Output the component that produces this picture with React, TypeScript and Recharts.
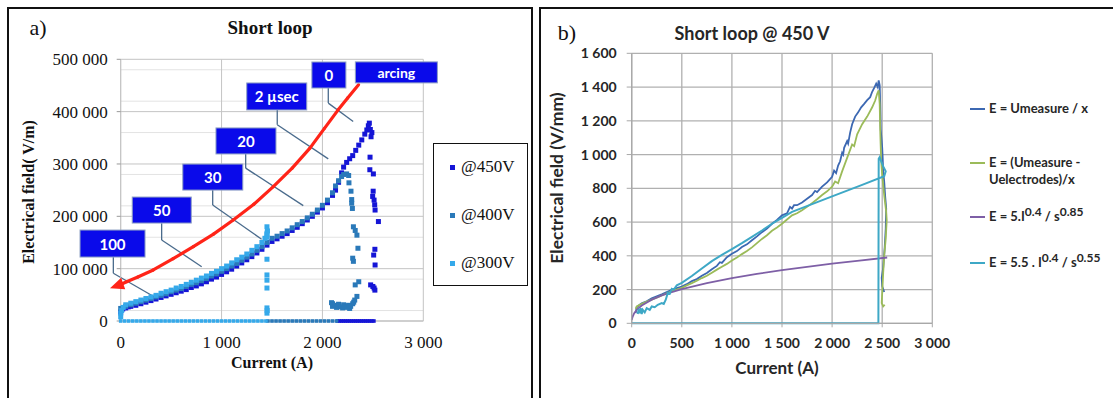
import React from "react";
import {
  ComposedChart,
  LineChart,
  Line,
  Scatter,
  XAxis,
  YAxis,
  CartesianGrid,
  ReferenceLine,
  ReferenceDot,
} from "recharts";

type Pt = [number, number];

// ---------- panel a : Short loop (scatter) ----------
const A_X_TICKS = [0, 1000, 2000, 3000];
const A_Y_TICKS = [0, 100000, 200000, 300000, 400000, 500000];
const A_Y_MINOR = [
  20000, 40000, 60000, 80000, 120000, 140000, 160000, 180000, 220000, 240000,
  260000, 280000, 320000, 340000, 360000, 380000, 420000, 440000, 460000, 480000,
];

const V450_CURVE: Pt[] = [
  [0, 17000], [20, 23000], [50, 25000], [75, 27000], [100, 28000], [150, 30000],
  [200, 33000], [250, 36000], [300, 39000], [350, 42000], [400, 45000], [450, 48000],
  [500, 51000], [550, 54000], [600, 57000], [650, 60000], [700, 64000], [750, 67000],
  [800, 71000], [850, 75000], [900, 80000], [950, 84000], [1000, 89000], [1050, 94000],
  [1100, 99000], [1150, 105000], [1200, 111000], [1250, 117000], [1300, 123000],
  [1350, 130000], [1400, 137000], [1450, 145000], [1500, 152000], [1550, 157000],
  [1600, 162000], [1650, 167000], [1700, 173000], [1750, 179000], [1800, 186000],
  [1850, 193000], [1900, 200000], [1950, 208000], [2000, 216000], [2050, 226000],
  [2100, 240000], [2130, 250000], [2160, 265000], [2190, 283000], [2210, 294000],
  [2240, 303000], [2270, 310000], [2300, 316000], [2330, 326000], [2360, 336000],
  [2390, 346000], [2420, 357000], [2440, 365000], [2455, 373000], [2465, 378000],
  [2475, 366000], [2490, 360000], [2482, 352000],
];
const V450_DROP: Pt[] = [
  [2472, 313000], [2470, 289000], [2505, 281000], [2503, 248000], [2498, 238000],
  [2512, 231000], [2518, 222000], [2522, 212000], [2555, 190000], [2520, 137000],
  [2508, 126000], [2522, 107000], [2478, 69000], [2500, 66000], [2512, 63000], [2520, 59000],
];
const V450_ZERO_X = [
  2150, 2170, 2190, 2210, 2230, 2250, 2270, 2290, 2310, 2330, 2350, 2370, 2390, 2410,
  2430, 2450, 2470, 2490, 2510,
];

const V400_CURVE: Pt[] = [
  [0, 24000], [50, 28000], [100, 31000], [150, 34000], [200, 37000], [250, 40000],
  [300, 43000], [350, 46000], [400, 49000], [450, 52000], [500, 56000], [550, 59000],
  [600, 62000], [650, 66000], [700, 70000], [750, 73000], [800, 77000], [850, 81000],
  [900, 86000], [950, 90000], [1000, 95000], [1050, 100000], [1100, 105000],
  [1150, 110000], [1200, 116000], [1250, 122000], [1300, 128000], [1350, 135000],
  [1400, 142000], [1450, 150000], [1500, 158000], [1550, 162000], [1600, 167000],
  [1650, 172000], [1700, 178000], [1750, 184000], [1800, 190000], [1850, 197000],
  [1900, 204000], [1950, 212000], [2000, 221000], [2050, 231000], [2100, 245000],
  [2130, 258000], [2160, 268000], [2190, 276000], [2210, 280000], [2240, 281000],
  [2260, 278000],
];
const V400_DROP: Pt[] = [
  [2263, 264000], [2290, 232000], [2283, 248000], [2290, 225000], [2297, 215000],
  [2307, 180000], [2325, 173000], [2342, 164000], [2352, 139000], [2300, 120000],
  [2307, 114000], [2325, 69000], [2360, 75000], [2342, 47000],
  [2090, 35000], [2100, 28000], [2100, 33000], [2120, 30000], [2140, 26000],
  [2150, 29000], [2160, 32000], [2180, 27000], [2200, 25000], [2210, 31000],
  [2220, 29000], [2240, 26000], [2260, 30000], [2270, 24000], [2280, 28000],
  [2300, 33000], [2310, 36000], [2320, 40000],
];
const V400_ZERO_X = [
  1460, 1500, 1540, 1580, 1620, 1660, 1700, 1740, 1780, 1820, 1860, 1900, 1940, 1980,
  2020, 2060, 2100, 2140,
];

const V300_CURVE: Pt[] = [
  [0, 8000], [0, 15000], [10, 20000], [25, 26000], [50, 31000], [100, 34000],
  [150, 37000], [200, 40000], [250, 43000], [300, 46000], [350, 49000], [400, 53000],
  [450, 56000], [500, 59000], [550, 63000], [600, 66000], [650, 70000], [700, 74000],
  [750, 78000], [800, 82000], [850, 86000], [900, 91000], [950, 95000], [1000, 100000],
  [1050, 105000], [1100, 111000], [1150, 117000], [1200, 122000], [1250, 128000],
  [1300, 135000], [1350, 142000], [1400, 150000], [1430, 158000], [1450, 165000],
  [1455, 172000], [1450, 180000],
];
const V300_DROP: Pt[] = [
  [1450, 168000], [1450, 160000], [1450, 118000], [1450, 88000], [1450, 78000],
  [1450, 63000], [1450, 25000], [1452, 20000], [1450, 15000],
];
const V300_ZERO_X = [
  0, 40, 80, 120, 160, 200, 240, 280, 320, 360, 400, 440, 480, 520, 560, 600, 640, 680,
  720, 760, 800, 840, 880, 920, 960, 1000, 1040, 1080, 1120, 1160, 1200, 1240, 1280,
  1320, 1360, 1400, 1440,
];

const A_SERIES = [
  { name: "@450V", color: "#1515d6", pts: [...V450_CURVE, ...V450_DROP], zero: V450_ZERO_X },
  { name: "@400V", color: "#2a79b9", pts: [...V400_CURVE, ...V400_DROP], zero: V400_ZERO_X },
  { name: "@300V", color: "#35a9ea", pts: [...V300_CURVE, ...V300_DROP], zero: V300_ZERO_X },
];

// time labels (anchored in data units)
const TIME_LABELS = [
  { text: "100", x: -81, y: 148000, w: 65, h: 27 },
  { text: "50", x: 407, y: 212000, w: 59, h: 26 },
  { text: "30", x: 913, y: 275000, w: 60, h: 26 },
  { text: "20", x: 1242, y: 344000, w: 60, h: 26 },
  { text: "2 µsec", x: 1547, y: 429000, w: 60, h: 27 },
  { text: "0", x: 2064, y: 470000, w: 34, h: 26 },
  { text: "arcing", x: 2733, y: 475000, w: 82, h: 21 },
];
const CALLOUTS: Pt[][] = [
  [[-73, 122900], [-73, 91200], [357, 43400]],
  [[406, 186800], [406, 154900], [803, 103800]],
  [[912, 250500], [912, 221800], [1397, 156200]],
  [[1239, 320600], [1239, 292000], [1810, 220500]],
  [[1552, 403400], [1552, 374800], [2058, 309800]],
  [[2058, 445000], [2058, 416300], [2305, 381100]],
];
const ARROW: Pt[] = [
  [2358, 451200], [2250, 426000], [2156, 403400], [2020, 368000], [1876, 330200],
  [1700, 292000], [1513, 256800], [1320, 223000], [1116, 193100], [920, 166000],
  [720, 142100], [520, 119000], [323, 97500], [170, 84000], [59, 75100], [10, 70700],
];
const ARROW_TIP: Pt = [-106, 62500];

// ---------- panel b : Short loop @ 450 V (lines) ----------
const B_X_TICKS = [0, 500, 1000, 1500, 2000, 2500, 3000];
const B_Y_TICKS = [0, 200, 400, 600, 800, 1000, 1200, 1400, 1600];

const E_MEASURE: Pt[] = [
  [40, 60], [50, 95], [80, 110], [100, 118], [150, 130], [200, 148], [250, 160],
  [300, 172], [350, 185], [400, 198], [450, 208], [500, 218], [550, 232], [600, 250],
  [650, 262], [700, 282], [750, 298], [800, 320], [850, 340], [880, 362], [900, 358],
  [950, 392], [1000, 412], [1050, 428], [1100, 452], [1150, 468], [1200, 492],
  [1250, 515], [1300, 540], [1350, 562], [1400, 590], [1450, 612], [1500, 640],
  [1550, 652], [1580, 690], [1600, 680], [1620, 700], [1650, 700], [1700, 716],
  [1750, 738], [1800, 760], [1830, 785], [1850, 778], [1900, 810], [1950, 835],
  [2000, 868], [2020, 905], [2040, 890], [2060, 935], [2080, 960], [2100, 1010],
  [2110, 1000], [2120, 1040], [2150, 1080], [2160, 1065], [2180, 1130], [2200, 1180],
  [2230, 1225], [2260, 1250], [2290, 1280], [2320, 1300], [2350, 1322], [2380, 1340],
  [2400, 1372], [2420, 1395], [2440, 1420], [2455, 1400], [2465, 1440], [2475, 1410],
  [2480, 1300], [2485, 1150], [2495, 1080], [2500, 1040], [2505, 980], [2510, 900],
  [2520, 840], [2530, 750], [2540, 680], [2535, 560], [2525, 450], [2510, 330],
  [2495, 270], [2500, 220], [2520, 185],
];
const E_CORRECTED: Pt[] = [
  [40, 85], [50, 100], [100, 115], [150, 128], [200, 140], [250, 152], [300, 165],
  [350, 178], [400, 190], [450, 200], [500, 210], [550, 225], [600, 238], [650, 252],
  [700, 268], [750, 282], [800, 300], [850, 318], [900, 335], [950, 352], [1000, 372],
  [1050, 390], [1100, 410], [1150, 428], [1200, 450], [1250, 475], [1300, 500],
  [1350, 522], [1400, 548], [1450, 568], [1500, 590], [1550, 615], [1600, 640],
  [1650, 652], [1700, 670], [1750, 690], [1800, 712], [1850, 735], [1900, 760],
  [1950, 782], [2000, 810], [2030, 840], [2060, 830], [2100, 900], [2150, 980],
  [2200, 1060], [2220, 1050], [2250, 1120], [2300, 1180], [2350, 1225], [2400, 1280],
  [2430, 1320], [2450, 1360], [2465, 1380], [2475, 1300], [2480, 1150], [2485, 1050],
  [2490, 960], [2500, 880], [2520, 760], [2540, 660], [2545, 610], [2535, 500],
  [2520, 400], [2510, 300], [2500, 180], [2495, 120], [2510, 100], [2525, 110],
];
const E_FIT_085: Pt[] = [
  [0, 20], [10, 40], [25, 60], [50, 80], [100, 105], [200, 140], [300, 165], [400, 185],
  [500, 203], [750, 238], [1000, 268], [1250, 293], [1500, 315], [1750, 335],
  [2000, 353], [2250, 370], [2550, 390],
];
const E_FIT_055: Pt[] = [
  [60, 55], [70, 85], [80, 60], [90, 90], [100, 55], [110, 80], [130, 65], [150, 90],
  [180, 80], [200, 100], [230, 95], [260, 110], [300, 120], [320, 115], [340, 140],
  [360, 180], [380, 175], [400, 205], [420, 200], [450, 225], [500, 240], [600, 280],
  [700, 325], [800, 368], [900, 405], [1000, 440], [1100, 475], [1200, 512],
  [1300, 550], [1400, 590], [1500, 625], [1600, 660], [2000, 752], [2300, 820],
  [2520, 872], [2535, 900], [2510, 930], [2490, 960], [2475, 985], [2465, 975],
  [2462, 0], [0, 0],
];

const B_SERIES = [
  { key: "m", label: "E = Umeasure / x", color: "#3c68b2", pts: E_MEASURE },
  { key: "c", label: "E = (Umeasure - Uelectrodes)/x", color: "#9bbb59", pts: E_CORRECTED },
  { key: "p", label: "E = 5.I^0.4 / s^0.85", color: "#7e5fa6", pts: E_FIT_085 },
  { key: "f", label: "E = 5.5 . I^0.4 / s^0.55", color: "#3ea8c6", pts: E_FIT_055 },
];

const toXY = (pts: Pt[]) => pts.map(([x, y]) => ({ x, y }));
const fmt = (v: number) => String(v).replace(/\B(?=(\d{3})+(?!\d))/g, " ");

const square = (color: string) => (p: any) => {
  const s = p.payload && p.payload.y === 0 ? 3.6 : 5;
  return <rect x={p.cx - s / 2} y={p.cy - s / 2} width={s} height={s} fill={color} />;
};

const abs = (left: number, top: number): React.CSSProperties => ({
  position: "absolute",
  left,
  top,
  whiteSpace: "nowrap",
});

function PanelA() {
  const serif = "'Liberation Serif', 'DejaVu Serif', serif";
  return (
    <div style={{ position: "absolute", left: 0, top: 0, width: 540, height: 398 }}>
      <ComposedChart
        width={540}
        height={398}
        margin={{ top: 59.3, right: 116.7, bottom: 47, left: 60.7 }}
      >
        <CartesianGrid horizontalValues={A_Y_MINOR} vertical={false} stroke="#e3e3e3" />
        <CartesianGrid
          horizontalValues={A_Y_TICKS}
          verticalValues={A_X_TICKS}
          stroke="#c4c4c4"
        />
        <XAxis
          type="number"
          dataKey="x"
          domain={[0, 3000]}
          ticks={A_X_TICKS}
          tickFormatter={fmt}
          height={30}
          axisLine={{ stroke: "#bdbdbd" }}
          tickLine={false}
          tickSize={5}
          tickMargin={10}
          tick={{ fontFamily: serif, fontSize: 17, fill: "#111" }}
        />
        <YAxis
          type="number"
          dataKey="y"
          domain={[0, 500000]}
          ticks={A_Y_TICKS}
          tickFormatter={fmt}
          width={60}
          axisLine={{ stroke: "#c4c4c4" }}
          tickLine={{ stroke: "#9a9a9a" }}
          tickSize={4}
          tickMargin={9}
          tick={{ fontFamily: serif, fontSize: 17, fill: "#111" }}
        />
        {A_SERIES.map((s) => (
          <Scatter
            key={s.name}
            name={s.name}
            data={[...toXY(s.pts), ...s.zero.map((x) => ({ x, y: 0 }))]}
            fill={s.color}
            shape={square(s.color)}
            isAnimationActive={false}
          />
        ))}
        {CALLOUTS.flatMap((pl, i) =>
          pl.slice(1).map((p, j) => (
            <ReferenceLine
              key={`c${i}-${j}`}
              segment={[
                { x: pl[j][0], y: pl[j][1] },
                { x: p[0], y: p[1] },
              ]}
              ifOverflow="visible"
              stroke="#4a6b8c"
              strokeWidth={1.3}
            />
          ))
        )}
        {ARROW.slice(1).map((p, j) => (
          <ReferenceLine
            key={`r${j}`}
            segment={[
              { x: ARROW[j][0], y: ARROW[j][1] },
              { x: p[0], y: p[1] },
            ]}
            ifOverflow="visible"
            stroke="#ff2418"
            strokeWidth={3.2}
            strokeLinecap="round"
          />
        ))}
        <ReferenceDot
          x={ARROW_TIP[0]}
          y={ARROW_TIP[1]}
          ifOverflow="visible"
          shape={(p: any) => (
            <polygon
              points="0,0 -14,-6 -14,6"
              fill="#ff2418"
              transform={`translate(${p.cx},${p.cy}) rotate(160)`}
            />
          )}
        />
        {TIME_LABELS.map((l) => (
          <ReferenceDot
            key={l.text}
            x={l.x}
            y={l.y}
            ifOverflow="visible"
            shape={(p: any) => (
              <g>
                <rect
                  x={p.cx - l.w / 2}
                  y={p.cy - l.h / 2}
                  width={l.w}
                  height={l.h}
                  fill="#0a0aea"
                  stroke="#8ea0c4"
                  strokeWidth={1}
                />
                <text
                  x={p.cx}
                  y={p.cy}
                  textAnchor="middle"
                  dominantBaseline="central"
                  fill="#fff"
                  fontFamily="Lato, 'Open Sans', sans-serif"
                  fontWeight={700}
                  fontSize={l.text === "arcing" ? 14 : 15}
                >
                  {l.text}
                </text>
              </g>
            )}
          />
        ))}
      </ComposedChart>

      <div style={{ ...abs(38, 28), transform: "translate(-50%,-50%)", fontFamily: serif, fontSize: 22, color: "#111" }}>
        a)
      </div>
      <div style={{ ...abs(270, 28), transform: "translate(-50%,-50%)", fontFamily: serif, fontSize: 19, fontWeight: 700, color: "#111" }}>
        Short loop
      </div>
      <div
        style={{
          ...abs(29, 192),
          transform: "translate(-50%,-50%) rotate(-90deg)",
          fontFamily: serif,
          fontSize: 16,
          fontWeight: 700,
          color: "#111",
        }}
      >
        Electrical field( V/m)
      </div>
      <div style={{ ...abs(272, 363), transform: "translate(-50%,-50%)", fontFamily: serif, fontSize: 16, fontWeight: 700, color: "#111" }}>
        Current (A)
      </div>

      <div
        style={{
          position: "absolute",
          left: 433,
          top: 143,
          width: 95,
          height: 143,
          border: "1.5px solid #111",
          boxSizing: "border-box",
          background: "#fff",
        }}
      >
        {A_SERIES.map((s, i) => (
          <div key={s.name} style={{ ...abs(0, 23 + i * 48), transform: "translateY(-50%)", display: "flex", alignItems: "center" }}>
            <span style={{ display: "inline-block", width: 5, height: 5, background: s.color, marginLeft: 16, marginRight: 6 }} />
            <span style={{ fontFamily: serif, fontSize: 17, color: "#111" }}>{s.name}</span>
          </div>
        ))}
      </div>
    </div>
  );
}

function LegendText({ label }: { label: string }) {
  const parts = label.split(/\^([0-9.]+)/);
  return (
    <>
      {parts.map((t, i) =>
        i % 2 === 1 ? (
          <sup key={i} style={{ fontSize: 12, verticalAlign: 0, position: "relative", top: -5 }}>
            {t}
          </sup>
        ) : (
          <span key={i}>{t}</span>
        )
      )}
    </>
  );
}

function PanelB() {
  const sans = "Lato, 'Open Sans', sans-serif";
  const legendTops = [109, 163, 217, 263];
  return (
    <div style={{ position: "absolute", left: 540, top: 0, width: 573, height: 398 }}>
      <LineChart
        width={573}
        height={398}
        margin={{ top: 53.3, right: 180.7, bottom: 44.7, left: 31.7 }}
      >
        <CartesianGrid
          horizontalValues={B_Y_TICKS}
          verticalValues={B_X_TICKS}
          stroke="#b0b0b0"
          strokeWidth={1.3}
        />
        <XAxis
          type="number"
          dataKey="x"
          domain={[0, 3000]}
          ticks={B_X_TICKS}
          tickFormatter={fmt}
          height={30}
          axisLine={{ stroke: "#a8a8a8", strokeWidth: 1.3 }}
          tickLine={{ stroke: "#a8a8a8" }}
          tickSize={4}
          tickMargin={11}
          tick={{ fontFamily: sans, fontSize: 14, fontWeight: 700, fill: "#262626" }}
        />
        <YAxis
          type="number"
          dataKey="y"
          domain={[0, 1600]}
          ticks={B_Y_TICKS}
          tickFormatter={fmt}
          width={60}
          axisLine={{ stroke: "#a8a8a8", strokeWidth: 1.3 }}
          tickLine={{ stroke: "#a8a8a8" }}
          tickSize={5}
          tickMargin={10}
          tick={{ fontFamily: sans, fontSize: 14, fontWeight: 700, fill: "#262626" }}
        />
        {B_SERIES.map((s) => (
          <Line
            key={s.key}
            data={toXY(s.pts)}
            dataKey="y"
            name={s.label}
            type="linear"
            stroke={s.color}
            strokeWidth={s.key === "f" ? 2 : 1.8}
            dot={false}
            isAnimationActive={false}
          />
        ))}
      </LineChart>

      <div style={{ ...abs(27, 33), transform: "translate(-50%,-50%)", fontFamily: "'Liberation Serif', serif", fontSize: 22, color: "#111" }}>
        b)
      </div>
      <div style={{ ...abs(212, 33), transform: "translate(-50%,-50%)", fontFamily: sans, fontSize: 18, fontWeight: 700, color: "#262626" }}>
        Short loop @ 450 V
      </div>
      <div
        style={{
          ...abs(16, 178),
          transform: "translate(-50%,-50%) rotate(-90deg)",
          fontFamily: sans,
          fontSize: 17.5,
          fontWeight: 700,
          color: "#262626",
        }}
      >
        Electrical field (V/mm)
      </div>
      <div style={{ ...abs(237, 367), transform: "translate(-50%,-50%)", fontFamily: sans, fontSize: 17, fontWeight: 700, color: "#262626" }}>
        Current (A)
      </div>

      {B_SERIES.map((s, i) => (
        <div key={s.key} style={{ ...abs(430, legendTops[i]), display: "flex", alignItems: "flex-start", transform: "translateY(-9px)" }}>
          <span style={{ display: "inline-block", width: 15, height: 2, background: s.color, marginTop: 8, marginRight: 4 }} />
          <span style={{ fontFamily: sans, fontSize: 13, fontWeight: 700, color: "#262626", lineHeight: "17px", whiteSpace: "normal", width: 130 }}>
            <LegendText label={s.label} />
          </span>
        </div>
      ))}
    </div>
  );
}

export default function App() {
  return (
    <div
      style={{
        position: "absolute",
        left: 0,
        top: 0,
        width: 1113,
        height: 398,
        overflow: "hidden",
        background: "#fff",
      }}
    >
      <div style={{ position: "absolute", left: 7, top: 7, width: 526, height: 420, border: "2px solid #111", boxSizing: "border-box" }} />
      <div style={{ position: "absolute", left: 539, top: 7, width: 600, height: 420, border: "2px solid #111", boxSizing: "border-box" }} />
      <PanelA />
      <PanelB />
    </div>
  );
}
